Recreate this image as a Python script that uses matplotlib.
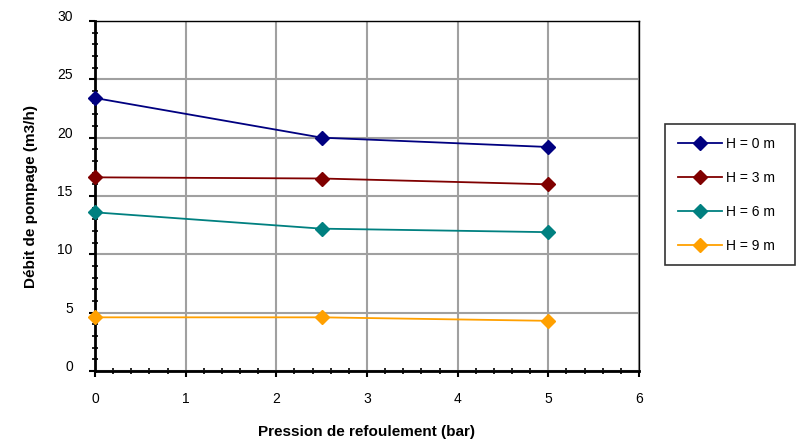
import matplotlib
matplotlib.use("Agg")
import matplotlib.pyplot as plt
import matplotlib.transforms as mtransforms
from matplotlib.ticker import MultipleLocator

plt.rcParams['font.family'] = ['Liberation Sans', 'DejaVu Sans']

pression = [0, 2.5, 5]
series_labels = ["H = 0 m", "H = 3 m", "H = 6 m", "H = 9 m"]
h0 = [23.4, 20.0, 19.2]
h3 = [16.6, 16.5, 16.0]
h6 = [13.6, 12.2, 11.9]
h9 = [4.6, 4.6, 4.3]
colors = ["#000080", "#800000", "#008080", "#FFA000"]
x_ticks = [0, 1, 2, 3, 4, 5, 6]
y_ticks = [0, 5, 10, 15, 20, 25, 30]

fig = plt.figure(figsize=(8.02, 4.45), dpi=100)
ax = fig.add_axes([95/802, 1-371/445, (639-95)/802, (371-21)/445])

for ys, c, lab in zip([h0, h3, h6, h9], colors, series_labels):
    ax.plot(pression, ys, color=c, marker='D', markersize=7.5, linewidth=1.3,
            label=lab, clip_on=False, zorder=3)

ax.set_xlim(0, 6)
ax.set_ylim(0, 30)
ax.set_xticks(x_ticks)
ax.set_yticks(y_ticks)
ax.xaxis.set_minor_locator(MultipleLocator(0.2))
ax.yaxis.set_minor_locator(MultipleLocator(1))
ax.grid(True, which='major', color='#A0A0A0', linewidth=1.5)
ax.set_axisbelow(True)

for s in ax.spines.values():
    s.set_color('black')
    s.set_linewidth(1.0)
ax.spines['left'].set_linewidth(2.0)
ax.spines['bottom'].set_linewidth(2.0)

ax.tick_params(axis='both', which='major', direction='out', length=4, width=1.5,
               labelsize=10, colors='black')
ax.tick_params(axis='both', which='minor', direction='inout', length=5, width=1.2)
ax.tick_params(axis='x', which='major', pad=11)
ax.tick_params(axis='y', which='major', pad=12)

offset = mtransforms.ScaledTranslation(0, 4/72, fig.dpi_scale_trans)
for lab in ax.get_yticklabels():
    lab.set_transform(lab.get_transform() + offset)

ax.set_xlabel("Pression de refoulement (bar)", fontsize=11, fontweight='bold', labelpad=14)
ax.set_ylabel("Débit de pompage (m3/h)", fontsize=11, fontweight='bold', labelpad=14)

leg = ax.legend(loc='upper left', bbox_to_anchor=(665/802, 1-263/445, 130/802, 139/445),
                bbox_transform=fig.transFigure, mode='expand', frameon=True,
                fancybox=False, edgecolor='black', fontsize=10, handlelength=3.2,
                labelspacing=1.45, borderpad=0.9, handletextpad=0.3, borderaxespad=0)
leg.get_frame().set_linewidth(1.2)

fig.savefig("out.png", dpi=100)
